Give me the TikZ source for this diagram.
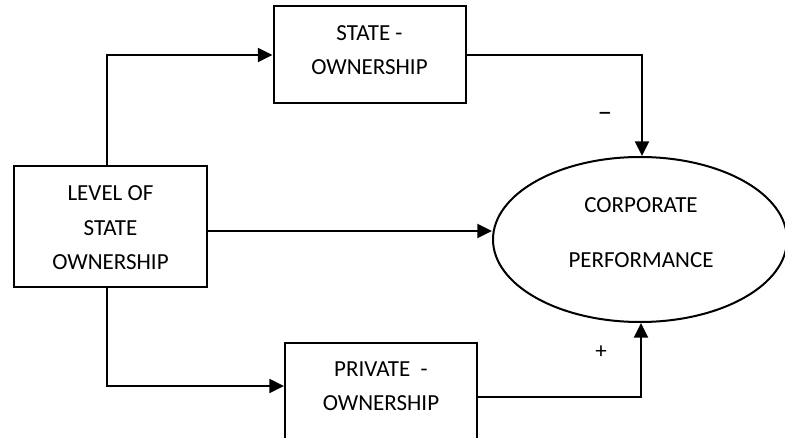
\documentclass[tikz,border=0pt]{standalone}
\usepackage{fontspec}
\setmainfont{Carlito}
\usetikzlibrary{arrows.meta,shapes.geometric}
\begin{document}
\begin{tikzpicture}[x=0.75pt,y=-0.75pt,
  box/.style={draw,line width=1.5pt,rectangle,inner sep=0pt},
  oval/.style={draw,line width=1.5pt,ellipse,inner sep=0pt},
  txt/.style={align=center,inner sep=0pt,font=\fontsize{17.25pt}{25.9pt}\selectfont},
  arr/.style={line width=1.5pt,-{Triangle[length=11pt,width=10.5pt]}},
  ln/.style={line width=1.5pt}]
\clip (0,0) rectangle (785,438);
\fill[white] (0,0) rectangle (785,438);
% boxes
\node[box,minimum width=144pt,minimum height=72.75pt] (state) at (369.5,54.5) {};
\node[txt] (statet) at (369.5,50) {STATE -\\OWNERSHIP};
\node[box,minimum width=144.75pt,minimum height=90.75pt] (lvl) at (110.5,226.5) {};
\node[txt] (lvlt) at (110.5,228) {LEVEL OF\\STATE\\OWNERSHIP};
\node[box,minimum width=144pt,minimum height=93pt] (priv) at (381,405) {};
\node[txt] (privt) at (381,386) {PRIVATE\ \ -\\OWNERSHIP};
\node[oval,minimum width=220.5pt,minimum height=123.75pt] (perf) at (640,239.5) {};
\node[txt] (perft) at (641,232.5) {CORPORATE\\[15.35pt]PERFORMANCE};
% helper coordinates
\coordinate (c1) at (107,55);
\coordinate (c2) at (107,386);
\coordinate (c3) at (641,397);
\coordinate (c4) at (0,231);
\coordinate (c5) at (642,55);
% connectors
\draw[arr] (lvl.north -| c1) |- (state.west |- c1);
\draw[arr] (lvl.south -| c2) |- (priv.west |- c2);
\draw[arr] (lvl.east |- c4) -- (perf.west |- c4);
\draw[arr] (state.east |- c5) -| (perf.north -| c5);
\draw[arr] (priv.east |- c3) -| (perf.south -| c3);
% signs
\node[txt,font=\fontsize{22pt}{26pt}\selectfont] (minus) at (605,117) {--};
\node[txt] (plus) at (601,352) {+};
\end{tikzpicture}
\end{document}
